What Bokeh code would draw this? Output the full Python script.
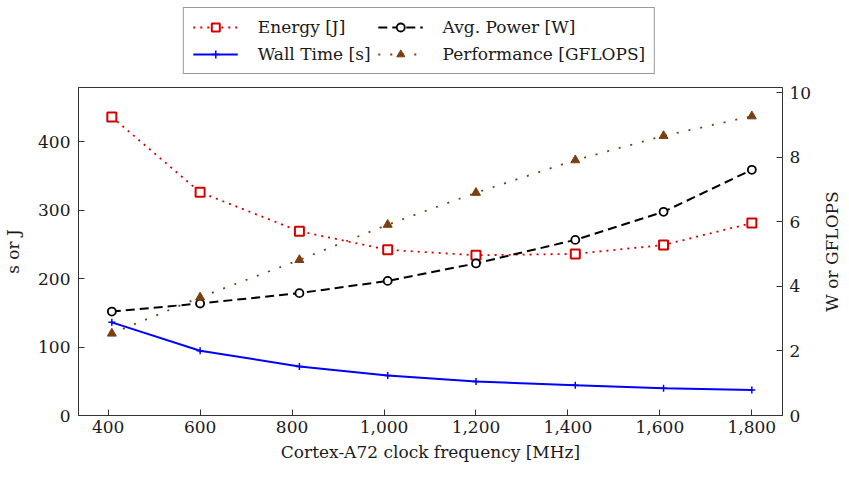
import math
from bokeh.plotting import figure
from bokeh.layouts import column, row
from bokeh.models import Range1d, LinearAxis, Legend, LegendItem, FixedTicker, NumeralTickFormatter, Label
from bokeh.embed import file_html
from bokeh.resources import INLINE

# ---- data ----
freq_mhz = [408, 600, 816, 1008, 1200, 1416, 1608, 1800]
energy_j = [436, 326, 269, 242, 234, 236, 249, 281]
wall_time_s = [136, 94.6, 71.7, 58.3, 49.7, 44.0, 39.7, 37.3]
avg_power_w = [3.22, 3.47, 3.79, 4.17, 4.71, 5.44, 6.31, 7.61]
performance_gflops = [2.54, 3.66, 4.82, 5.91, 6.90, 7.91, 8.66, 9.27]

series_labels = ["Energy [J]", "Avg. Power [W]", "Wall Time [s]", "Performance [GFLOPS]"]
right_axis_title = "W or GFLOPS"

x_ticks = [400, 600, 800, 1000, 1200, 1400, 1600, 1800]
left_ticks = [0, 100, 200, 300, 400]
right_ticks = [0, 2, 4, 6, 8, 10]

FONT = "DejaVu Serif"
FS = "17px"
TXT = "#1a1a1a"
AX = "#333333"
RED = "#d40000"
BLUE = "#0000ff"
BROWN = "#7a3f12"

FW, FH = 704, 328
BL, BR = 67, 36
SIDE_W = 26

STY = {
    "energy": dict(line=dict(line_color=RED, line_width=1.8, line_dash="2 5"),
                   pts=dict(marker="square", size=9, fill_color="white", line_color=RED, line_width=2)),
    "power": dict(line=dict(line_color="black", line_width=2, line_dash="9 5"),
                  pts=dict(marker="circle", size=8, fill_color="white", line_color="black", line_width=1.8)),
    "time": dict(line=dict(line_color=BLUE, line_width=2),
                 pts=dict(marker="cross", size=7, line_color=BLUE, line_width=1.5)),
    "perf": dict(line=dict(line_color=BROWN, line_width=1.8, line_dash="2 10"),
                 pts=dict(marker="triangle", size=9, fill_color=BROWN, line_color=BROWN)),
}
SERIES = {
    "energy": (energy_j, "default"),
    "power": (avg_power_w, "right"),
    "time": (wall_time_s, "default"),
    "perf": (performance_gflops, "right"),
}

p = figure(frame_width=FW, frame_height=FH,
           x_range=Range1d(335.5, 1866.7), y_range=Range1d(0, 479),
           output_backend="svg", toolbar_location=None,
           min_border_left=BL, min_border_right=BR,
           min_border_top=8, min_border_bottom=40)
p.extra_y_ranges = {"right": Range1d(0, 10.16)}
p.grid.visible = False
p.outline_line_color = AX
p.outline_line_width = 1


def style(ax):
    ax.axis_line_color = AX
    ax.axis_line_width = 1
    ax.major_tick_in = 6
    ax.major_tick_out = 0
    ax.minor_tick_in = 0
    ax.minor_tick_out = 0
    ax.major_tick_line_color = AX
    ax.major_label_text_font = FONT
    ax.major_label_text_font_size = FS
    ax.major_label_text_color = TXT
    ax.axis_label_text_font = FONT
    ax.axis_label_text_font_size = FS
    ax.axis_label_text_font_style = "normal"
    ax.axis_label_text_color = TXT


xa = p.xaxis[0]
style(xa)
xa.ticker = FixedTicker(ticks=x_ticks)
xa.formatter = NumeralTickFormatter(format="0,0")
xa.axis_label = "Cortex-A72 clock frequency [MHz]"
xa.major_label_standoff = 5
xa.axis_label_standoff = 6

ya = p.yaxis[0]
style(ya)
ya.ticker = FixedTicker(ticks=left_ticks)
ya.axis_label = "s or J"
ya.major_label_standoff = 8
ya.axis_label_standoff = 12

ra = LinearAxis(y_range_name="right")
style(ra)
ra.ticker = FixedTicker(ticks=right_ticks)
ra.major_label_standoff = 7
p.add_layout(ra, "right")

# ---- series ----
for key in ["energy", "time", "power", "perf"]:
    vals, rng = SERIES[key]
    p.line(freq_mhz, vals, y_range_name=rng, **STY[key]["line"])
    p.scatter(freq_mhz, vals, y_range_name=rng, **STY[key]["pts"])

# ---- right axis title strip (reads bottom-to-top, centred on the frame) ----
side = figure(frame_width=SIDE_W, frame_height=FH, x_range=Range1d(0, 1), y_range=Range1d(0, 1),
              output_backend="svg", toolbar_location=None,
              x_axis_location=None, y_axis_location=None,
              min_border_left=0, min_border_right=0, min_border_top=8, min_border_bottom=0)
side.grid.visible = False
side.outline_line_color = None
side.add_layout(Label(x=0.5, y=0.5, text=right_axis_title, angle=math.pi / 2,
                      text_align="center", text_baseline="middle",
                      text_font=FONT, text_font_size=FS, text_color=TXT))

# ---- legend strip above the plot (same series; its ranges keep the marks out of view) ----
lg = figure(frame_width=FW, frame_height=79, x_range=Range1d(0, 1), y_range=Range1d(-2, -1),
            output_backend="svg", toolbar_location=None,
            x_axis_location=None, y_axis_location=None,
            min_border_left=BL, min_border_right=BR + SIDE_W, min_border_top=0, min_border_bottom=0)
lg.grid.visible = False
lg.outline_line_color = None
items = []
for key, lab in zip(["energy", "power", "time", "perf"], series_labels):
    vals, _ = SERIES[key]
    r1 = lg.line(freq_mhz, vals, **STY[key]["line"])
    r2 = lg.scatter(freq_mhz, vals, **STY[key]["pts"])
    items.append(LegendItem(label=lab, renderers=[r1, r2]))

legend = Legend(items=items, orientation="horizontal", ncols=2)
legend.location = "top_center"
legend.margin = 7
legend.padding = 9
legend.spacing = 7
legend.glyph_width = 45
legend.glyph_height = 20
legend.label_height = 20
legend.label_standoff = 20
legend.label_text_font = FONT
legend.label_text_font_size = FS
legend.label_text_color = TXT
legend.border_line_color = AX
legend.border_line_width = 1
legend.background_fill_color = "white"
legend.background_fill_alpha = 1
lg.add_layout(legend, "center")

layout = column(lg, row(p, side, spacing=0), spacing=0)
open("out.html", "w").write(file_html(layout, INLINE))
